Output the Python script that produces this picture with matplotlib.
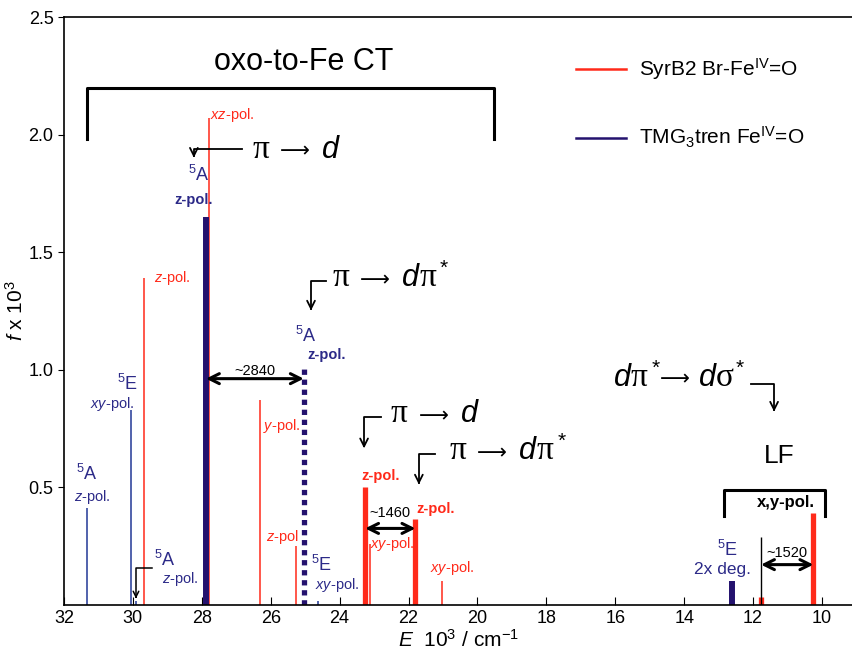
import numpy as np
import matplotlib
matplotlib.use('Agg')
from matplotlib import pyplot as plt

plt.rcParams['font.family'] = ['Liberation Sans', 'DejaVu Sans']
plt.rcParams['mathtext.fontset'] = 'custom'
plt.rcParams['mathtext.rm'] = 'Liberation Sans'
plt.rcParams['mathtext.it'] = 'Liberation Sans:italic'
plt.rcParams['mathtext.bf'] = 'Liberation Sans:bold'

RED = '#ff2a1a'
NAVY = '#24126e'
BLUE = '#33489e'
LBLUE = '#2c2a88'

# transition energies (10^3 cm-1) and oscillator strengths (f x 10^3)
red_thin_E = [29.68, 27.79, 26.31, 25.26, 23.12, 21.03]
red_thin_f = [1.39, 2.07, 0.87, 0.25, 0.26, 0.10]
red_bold_E = [23.26, 21.80, 11.77, 10.25]
red_bold_f = [0.50, 0.365, 0.035, 0.39]

blue_thin_E = [31.33, 30.05, 29.90, 24.63]
blue_thin_f = [0.41, 0.83, 0.015, 0.015]
blue_bold_E = [27.88, 12.62]
blue_bold_f = [1.65, 0.10]
blue_dot_E = [25.04]
blue_dot_f = [1.01]

xticks = [32, 30, 28, 26, 24, 22, 20, 18, 16, 14, 12, 10]
yticks = [0.5, 1.0, 1.5, 2.0, 2.5]

fig = plt.figure(figsize=(8.53, 6.56), dpi=100)
ax = fig.add_axes([0.075, 0.078, 0.925, 0.896])

ax.vlines(red_thin_E, 0, red_thin_f, color=RED, lw=1.1)
ax.vlines(red_bold_E, 0, red_bold_f, color=RED, lw=3.8)
ax.vlines(blue_thin_E, 0, blue_thin_f, color=BLUE, lw=1.2)
ax.vlines(blue_bold_E, 0, blue_bold_f, color=NAVY, lw=4.3)
ax.vlines(blue_dot_E, 0, blue_dot_f, color=NAVY, lw=3.8, linestyles=[(0, (1, 0.9))])

ax.set_xlim(32, 9.1)
ax.set_ylim(0, 2.5)
ax.set_xticks(xticks)
ax.set_xticklabels([str(t) for t in xticks])
ax.set_yticks(yticks)
ax.set_yticklabels(['%.1f' % t for t in yticks])
ax.tick_params(axis='x', direction='in', length=6, labelsize=13, pad=4)
ax.tick_params(axis='y', direction='out', length=4, labelsize=13)
ax.spines['right'].set_visible(False)
for s in ('left', 'bottom', 'top'):
  ax.spines[s].set_linewidth(1.2)

ax.set_xlabel(r'$E$  10$^3$ / cm$^{-1}$', fontsize=15, labelpad=1)
ax.set_ylabel(r'$f$ x 10$^3$', fontsize=15)
ax.yaxis.set_label_coords(-0.047, 0.5)

# legend
ax.plot([17.14, 15.69], [2.278, 2.278], color=RED, lw=1.8)
ax.text(15.31, 2.278, r'SyrB2 Br-Fe$^{\mathrm{IV}}$=O', fontsize=15, va='center')
ax.plot([17.14, 15.69], [1.987, 1.987], color=NAVY, lw=1.8)
ax.text(15.31, 1.987, r'TMG$_3$tren Fe$^{\mathrm{IV}}$=O', fontsize=15, va='center')

# charge-transfer bracket
ax.plot([31.33, 31.33, 19.52, 19.52], [1.98, 2.20, 2.20, 1.98], color='k', lw=2.2)
ax.text(25.03, 2.31, 'oxo-to-Fe CT', fontsize=22, ha='center', va='center')

# ligand-field bracket
ax.plot([12.84, 12.84, 9.91, 9.91], [0.376, 0.49, 0.49, 0.376], color='k', lw=2.2)
ax.text(11.04, 0.436, 'x,y-pol.', fontsize=12, fontweight='bold', ha='center', va='center')
ax.text(11.24, 0.632, 'LF', fontsize=19, ha='center', va='center')

# transition type labels, built from pieces offset in pixels from a baseline anchor
PIECE = {
  'pi': dict(family='Liberation Serif', fontsize=24),
  'arrow': dict(family='DejaVu Sans', fontsize=15),
  'd': dict(family='Liberation Sans', style='italic', fontsize=22),
  'star': dict(family='Liberation Sans', fontsize=15),
}

def term(x, y, pieces):
  for s, kind, dx, dy in pieces:
    ax.annotate(s, xy=(x, y), xytext=(dx * 0.72, dy * 0.72), textcoords='offset points',
                ha='left', va='baseline', **PIECE[kind])

PI_D = [('π', 'pi', 0, 0), ('⟶', 'arrow', 28, 0), ('d', 'd', 70, 0)]
PI_DPI = PI_D + [('π', 'pi', 87, 0), ('*', 'star', 108, 12)]
DD = [('d', 'd', 0, 0), ('π', 'pi', 17, 0), ('*', 'star', 38, 12), ('⟶', 'arrow', 46, 0),
      ('d', 'd', 85, 0), ('σ', 'pi', 102, 0), ('*', 'star', 122, 12)]

def callout(x0, x1, y, y_end):
  ax.plot([x1, x0, x0], [y, y, y_end + 0.02], color='k', lw=1.3)
  ax.annotate('', xy=(x0, y_end), xytext=(x0, y_end + 0.04),
              arrowprops=dict(arrowstyle='->', color='k', lw=1.3, mutation_scale=14))

callout(28.23, 26.83, 1.94, 1.89)
term(26.54, 1.902, PI_D)
callout(24.83, 24.39, 1.376, 1.24)
term(24.22, 1.355, PI_DPI)
callout(23.29, 22.80, 0.80, 0.654)
term(22.51, 0.778, PI_D)
callout(21.70, 21.23, 0.641, 0.50)
term(20.82, 0.62, PI_DPI)

# d-d label, line on the right side
ax.plot([12.06, 11.39, 11.39], [0.94, 0.94, 0.83], color='k', lw=1.3)
ax.annotate('', xy=(11.39, 0.81), xytext=(11.39, 0.85),
            arrowprops=dict(arrowstyle='->', color='k', lw=1.3, mutation_scale=14))
term(16.04, 0.932, DD)

# small arrow to the weak 5A band
ax.plot([29.45, 29.91, 29.91], [0.158, 0.158, 0.04], color='k', lw=1.1)
ax.annotate('', xy=(29.91, 0.015), xytext=(29.91, 0.05),
            arrowprops=dict(arrowstyle='->', color='k', lw=1.1, mutation_scale=10))

# energy splittings
def splitting(xa, xb, y, label, ty):
  ax.annotate('', xy=(xa, y), xytext=(xb, y),
              arrowprops=dict(arrowstyle='<->', color='k', lw=2.2, mutation_scale=18,
                              shrinkA=0, shrinkB=0))
  ax.text((xa + xb) / 2.0, ty, label, fontsize=10.5, ha='center', va='center')

splitting(blue_bold_E[0], blue_dot_E[0], 0.962, '~2840', 0.996)
splitting(red_bold_E[0], red_bold_E[1], 0.325, '~1460', 0.39)
ax.vlines([red_bold_E[2]], 0, 0.29, color='k', lw=1.0)
splitting(red_bold_E[2], red_bold_E[3], 0.171, '~1520', 0.222)

# band labels
def lab(x, y, s, c, size=10, weight='normal', ha='center'):
  ax.text(x, y, s, color=c, fontsize=size, fontweight=weight, ha=ha, va='center')

lab(31.33, 0.555, r'$^5$A', LBLUE, 13)
lab(31.19, 0.46, r'$z$-pol.', LBLUE, 10.5)
lab(30.17, 0.94, r'$^5$E', LBLUE, 13)
lab(30.60, 0.855, r'$xy$-pol.', LBLUE, 10.5)
lab(29.07, 0.19, r'$^5$A', LBLUE, 13)
lab(28.63, 0.111, r'$z$-pol.', LBLUE, 10.5)
lab(28.08, 1.83, r'$^5$A', LBLUE, 13)
lab(28.25, 1.72, 'z-pol.', LBLUE, 10.5, 'bold')
lab(24.98, 1.145, r'$^5$A', LBLUE, 13)
lab(24.37, 1.064, 'z-pol.', LBLUE, 10.5, 'bold')
lab(24.54, 0.168, r'$^5$E', LBLUE, 13)
lab(24.08, 0.085, r'$xy$-pol.', LBLUE, 10.5)
lab(12.75, 0.235, r'$^5$E', LBLUE, 13)
lab(12.90, 0.15, '2x deg.', LBLUE, 12.5)

lab(27.75, 2.085, r'$xz$-pol.', RED, 10.5, ha='left')
lab(29.40, 1.39, r'$z$-pol.', RED, 10.5, ha='left')
lab(25.67, 0.76, r'$y$-pol.', RED, 10.5)
lab(25.67, 0.29, r'$z$-pol', RED, 10.5)
lab(22.80, 0.547, 'z-pol.', RED, 10.5, 'bold')
lab(22.48, 0.26, r'$xy$-pol.', RED, 10.5)
lab(21.20, 0.406, 'z-pol.', RED, 10.5, 'bold')
lab(20.74, 0.158, r'$xy$-pol.', RED, 10.5)

fig.savefig('out.png', dpi=100)
